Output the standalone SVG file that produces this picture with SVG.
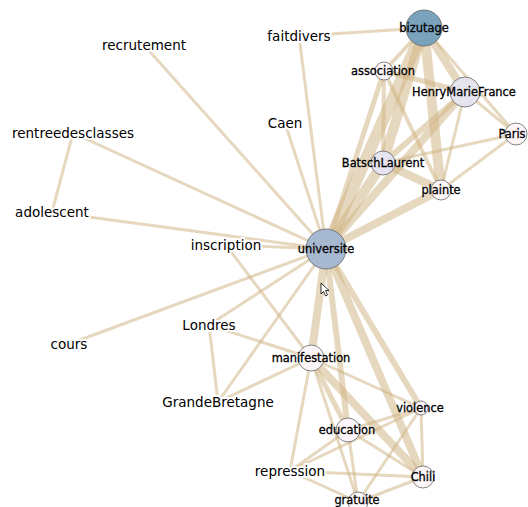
<svg xmlns="http://www.w3.org/2000/svg" width="528" height="507" viewBox="0 0 528 507">
<style>
.e{stroke:#cdb280;stroke-opacity:0.5;fill:none;stroke-linecap:butt}
.w3{stroke-width:3}.w4{stroke-width:4}.w5{stroke-width:5}.w6{stroke-width:6}.w8{stroke-width:8}.w10{stroke-width:10}.w12{stroke-width:12}
.n{stroke:#666;stroke-width:0.8}
.c0{fill:#fdf6f8}.c1{fill:#e6e4ef}.c2{fill:#a7b8d1}.c3{fill:#79a2bc}
.lb{font-family:"DejaVu Sans",Verdana,sans-serif;font-size:13.5px;fill:#000;text-anchor:middle;stroke:#fff;stroke-width:4;stroke-linejoin:round;paint-order:stroke}
.ls{font-family:"DejaVu Sans",Verdana,sans-serif;font-size:11.4px;fill:#000;text-anchor:middle;stroke:#000;stroke-width:0.3}
</style>
<rect width="528" height="507" fill="#fff"/>
<g id="edges">
<line class="e w3" x1="299" y1="36" x2="424" y2="28"/>
<line class="e w3" x1="299" y1="36" x2="326" y2="249"/>
<line class="e w3" x1="144" y1="45" x2="326" y2="249"/>
<line class="e w3" x1="285" y1="123" x2="326" y2="249"/>
<line class="e w3" x1="73" y1="133" x2="326" y2="249"/>
<line class="e w3" x1="73" y1="133" x2="52" y2="212"/>
<line class="e w3" x1="52" y1="212" x2="326" y2="249"/>
<line class="e w3" x1="226" y1="245" x2="326" y2="249"/>
<line class="e w3" x1="226" y1="245" x2="311" y2="358"/>
<line class="e w3" x1="69" y1="344" x2="326" y2="249"/>
<line class="e w3" x1="209" y1="325" x2="326" y2="249"/>
<line class="e w3" x1="209" y1="325" x2="311" y2="358"/>
<line class="e w3" x1="209" y1="325" x2="218" y2="402"/>
<line class="e w3" x1="218" y1="402" x2="326" y2="249"/>
<line class="e w3" x1="218" y1="402" x2="311" y2="358"/>
<line class="e w3" x1="424" y1="28" x2="516" y2="134"/>
<line class="e w3" x1="465" y1="92" x2="516" y2="134"/>
<line class="e w3" x1="383" y1="163" x2="516" y2="134"/>
<line class="e w3" x1="441" y1="190" x2="516" y2="134"/>
<line class="e w3" x1="465" y1="92" x2="441" y2="190"/>
<line class="e w3" x1="311" y1="358" x2="421" y2="408"/>
<line class="e w3" x1="311" y1="358" x2="358" y2="502"/>
<line class="e w3" x1="311" y1="358" x2="290" y2="471"/>
<line class="e w3" x1="348" y1="430" x2="421" y2="408"/>
<line class="e w3" x1="348" y1="430" x2="423" y2="477"/>
<line class="e w3" x1="348" y1="430" x2="290" y2="471"/>
<line class="e w3" x1="348" y1="430" x2="358" y2="502"/>
<line class="e w3" x1="421" y1="408" x2="423" y2="477"/>
<line class="e w3" x1="421" y1="408" x2="358" y2="502"/>
<line class="e w3" x1="421" y1="408" x2="290" y2="471"/>
<line class="e w3" x1="290" y1="471" x2="423" y2="477"/>
<line class="e w3" x1="290" y1="471" x2="358" y2="502"/>
<line class="e w3" x1="423" y1="477" x2="358" y2="502"/>
<line class="e w4" x1="384" y1="71" x2="383" y2="163"/>
<line class="e w4" x1="384" y1="71" x2="441" y2="190"/>
<line class="e w4" x1="424" y1="28" x2="384" y2="71"/>
<line class="e w5" x1="384" y1="71" x2="465" y2="92"/>
<line class="e w5" x1="384" y1="71" x2="326" y2="249"/>
<line class="e w5" x1="311" y1="358" x2="348" y2="430"/>
<line class="e w6" x1="465" y1="92" x2="383" y2="163"/>
<line class="e w6" x1="326" y1="249" x2="348" y2="430"/>
<line class="e w6" x1="326" y1="249" x2="421" y2="408"/>
<line class="e w8" x1="424" y1="28" x2="465" y2="92"/>
<line class="e w8" x1="326" y1="249" x2="441" y2="190"/>
<line class="e w8" x1="326" y1="249" x2="465" y2="92"/>
<line class="e w8" x1="383" y1="163" x2="441" y2="190"/>
<line class="e w8" x1="326" y1="249" x2="311" y2="358"/>
<line class="e w8" x1="326" y1="249" x2="423" y2="477"/>
<line class="e w8" x1="311" y1="358" x2="423" y2="477"/>
<line class="e w10" x1="424" y1="28" x2="383" y2="163"/>
<line class="e w10" x1="326" y1="249" x2="383" y2="163"/>
<line class="e w10" x1="424" y1="28" x2="441" y2="190"/>
<line class="e w12" x1="424" y1="28" x2="326" y2="249"/>
</g>
<g id="n-faitdivers"><text class="lb" x="299" y="41">faitdivers</text></g>
<g id="n-recrutement"><text class="lb" x="144" y="50">recrutement</text></g>
<g id="n-Caen"><text class="lb" x="285" y="128">Caen</text></g>
<g id="n-rentreedesclasses"><text class="lb" x="73" y="138">rentreedesclasses</text></g>
<g id="n-adolescent"><text class="lb" x="52" y="217">adolescent</text></g>
<g id="n-inscription"><text class="lb" x="226" y="250">inscription</text></g>
<g id="n-cours"><text class="lb" x="69" y="349">cours</text></g>
<g id="n-Londres"><text class="lb" x="209" y="330">Londres</text></g>
<g id="n-GrandeBretagne"><text class="lb" x="218" y="407">GrandeBretagne</text></g>
<g id="n-repression"><text class="lb" x="290" y="476">repression</text></g>
<g id="n-bizutage"><circle class="n c3" cx="424" cy="28" r="18"/><text class="ls" x="424" y="32">bizutage</text></g>
<g id="n-association"><circle class="n c0" cx="384" cy="71" r="9"/><text class="ls" x="383" y="75">association</text></g>
<g id="n-HenryMarieFrance"><circle class="n c1" cx="465" cy="92" r="15"/><text class="ls" x="464" y="96">HenryMarieFrance</text></g>
<g id="n-Paris"><circle class="n c0" cx="516" cy="134" r="11"/><text class="ls" x="512" y="138">Paris</text></g>
<g id="n-BatschLaurent"><circle class="n c1" cx="383" cy="163" r="12"/><text class="ls" x="383" y="167">BatschLaurent</text></g>
<g id="n-plainte"><circle class="n c0" cx="441" cy="190" r="10"/><text class="ls" x="441" y="194">plainte</text></g>
<g id="n-universite"><circle class="n c2" cx="326" cy="249" r="20"/><text class="ls" x="326" y="253">universite</text></g>
<g id="n-manifestation"><circle class="n c0" cx="311" cy="358" r="13"/><text class="ls" x="311" y="362">manifestation</text></g>
<g id="n-violence"><circle class="n c0" cx="421" cy="408" r="7"/><text class="ls" x="420" y="412">violence</text></g>
<g id="n-education"><circle class="n c0" cx="348" cy="430" r="12"/><text class="ls" x="347" y="434">education</text></g>
<g id="n-Chili"><circle class="n c0" cx="423" cy="477" r="11"/><text class="ls" x="423" y="481">Chili</text></g>
<g id="n-gratuite"><circle class="n c0" cx="358" cy="502" r="10"/><text class="ls" x="357" y="504">gratuite</text></g>
<polygon points="321,283 321,294 323.5,291.5 325.5,296 327.5,295 325.5,290.5 329,290.5" fill="#fff" stroke="#000" stroke-width="0.8"/>
</svg>
